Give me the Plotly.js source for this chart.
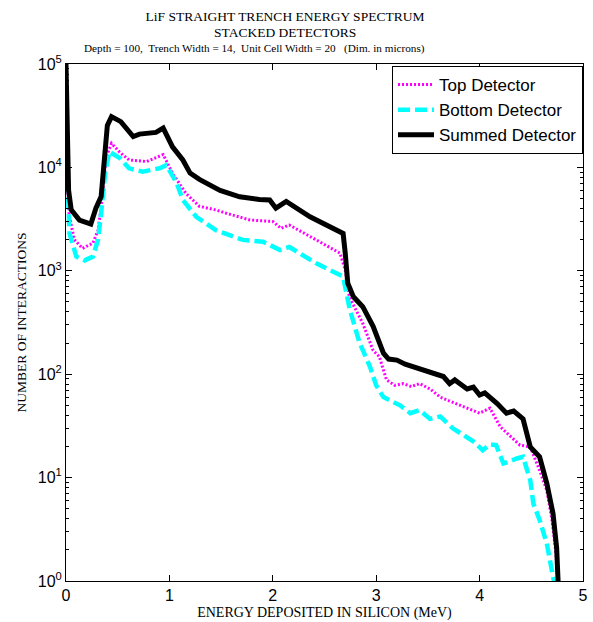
<!DOCTYPE html>
<html>
<head>
<meta charset="utf-8">
<script src="https://cdn.plot.ly/plotly-3.0.1.min.js"></script>
<style>html,body{margin:0;padding:0;background:#fff;}#chart{width:593px;height:622px;}</style>
</head>
<body>
<div id="chart"></div>
<script>
// Energy deposited (MeV) and counts for each detector
const sumX = [0, 0.01, 0.025, 0.05, 0.13, 0.24, 0.29, 0.34, 0.37, 0.40, 0.44, 0.53, 0.65, 0.71, 0.87, 0.94, 1.03, 1.13, 1.20, 1.29, 1.49, 1.68, 1.87, 1.97, 2.03, 2.07, 2.13, 2.36, 2.68, 2.70, 2.725, 2.78, 2.87, 2.97, 3.07, 3.12, 3.20, 3.28, 3.36, 3.45, 3.50, 3.58, 3.65, 3.71, 3.76, 3.81, 3.88, 3.94, 4.00, 4.05, 4.10, 4.17, 4.26, 4.33, 4.42, 4.44, 4.49, 4.58, 4.65, 4.71, 4.745, 4.76];
const sumY = [100000, 30000, 6000, 3900, 3090, 2830, 4060, 5220, 11000, 25500, 31000, 27700, 19900, 21000, 21800, 24000, 15800, 11800, 8800, 7650, 6000, 5200, 4900, 4840, 4030, 4300, 4680, 3330, 2300, 1500, 760, 560, 450, 290, 160, 140, 137, 125, 118, 112, 108, 102, 95, 81, 88, 81, 72, 75, 63, 66, 60, 52, 42, 44, 37, 30, 19.8, 15.9, 8.8, 4.5, 2.1, 0.95];

const topX = [0, 0.03, 0.08, 0.16, 0.26, 0.31, 0.34, 0.39, 0.44, 0.52, 0.61, 0.78, 0.94, 1.03, 1.16, 1.29, 1.45, 1.55, 1.78, 2.00, 2.08, 2.16, 2.42, 2.65, 2.70, 2.74, 2.87, 2.97, 3.03, 3.10, 3.18, 3.26, 3.34, 3.42, 3.52, 3.62, 3.71, 3.81, 3.90, 4.00, 4.10, 4.20, 4.30, 4.39, 4.49, 4.58, 4.65, 4.70, 4.74, 4.76];
const topY = [14000, 3500, 2000, 1650, 1850, 2460, 4200, 12700, 17100, 14000, 11800, 11400, 13300, 8800, 5600, 4200, 3880, 3600, 3100, 3000, 2570, 2770, 1990, 1480, 1020, 560, 310, 170, 148, 88, 78, 81, 76, 81, 72, 60, 55, 50, 46, 42, 47, 31, 25, 20.6, 19.8, 11.8, 7.5, 3.9, 1.8, 0.9];

const botX = [0, 0.034, 0.10, 0.18, 0.26, 0.31, 0.34, 0.38, 0.42, 0.52, 0.61, 0.74, 0.905, 0.97, 1.07, 1.13, 1.26, 1.45, 1.71, 1.905, 2.07, 2.16, 2.42, 2.68, 2.745, 2.84, 2.94, 3.00, 3.07, 3.15, 3.23, 3.33, 3.42, 3.52, 3.62, 3.74, 3.87, 3.95, 4.03, 4.10, 4.16, 4.23, 4.36, 4.42, 4.49, 4.52, 4.58, 4.65, 4.71, 4.73];
const botY = [16000, 2300, 1370, 1260, 1370, 2000, 3620, 9000, 14200, 12300, 9800, 9100, 9800, 10500, 7100, 4840, 3330, 2470, 1990, 1910, 1590, 1700, 1180, 880, 420, 200, 118, 78, 60, 55, 50, 42, 45, 37, 39, 30, 24.7, 22, 18.4, 21, 20.6, 13.7, 15.3, 15.9, 9.4, 5.6, 3.9, 2.3, 1.1, 0.9];

const seriesNames = ["Top Detector", "Bottom Detector", "Summed Detector"];
const xTickVals = [0, 1, 2, 3, 4, 5];
const yTickVals = [1, 10, 100, 1000, 10000, 100000];
const yTickText = ["10<sup>0</sup>", "10<sup>1</sup>", "10<sup>2</sup>", "10<sup>3</sup>", "10<sup>4</sup>", "10<sup>5</sup>"];

const titleLines = ["LiF STRAIGHT TRENCH ENERGY SPECTRUM", "STACKED DETECTORS", "Depth = 100,  Trench Width = 14,  Unit Cell Width = 20   (Dim. in microns)"];
const xTitle = "ENERGY DEPOSITED IN SILICON (MeV)";
const yTitle = "NUMBER OF INTERACTIONS";

const minorVals = [];
for (let d = 1; d < 100000; d *= 10) for (let k = 2; k <= 9; k++) minorVals.push(k * d);

const serif = "Liberation Serif, Times New Roman, serif";
const sans = "Liberation Sans, Arial, Helvetica, sans-serif";

const traces = [
  {x: topX, y: topY, name: seriesNames[0], type: "scatter", mode: "lines",
   line: {color: "#ff00ff", width: 3, dash: "2px,2px"}},
  {x: botX, y: botY, name: seriesNames[1], type: "scatter", mode: "lines",
   line: {color: "#00ffff", width: 4.5, dash: "12px,5px"}},
  {x: sumX, y: sumY, name: seriesNames[2], type: "scatter", mode: "lines",
   line: {color: "#000000", width: 5}}
];

const PW = 517, PH = 517, ML = 66, MT = 64;
const layout = {
  width: 593, height: 622,
  margin: {l: ML, r: 10, t: MT, b: 41},
  paper_bgcolor: "#fff", plot_bgcolor: "#fff",
  showlegend: true,
  title: {
    text: titleLines[0],
    font: {family: serif, size: 13.5, color: "#000"},
    x: (285 - ML) / PW, xref: "paper", xanchor: "center",
    y: 1 - 16.5 / 622, yref: "container", yanchor: "middle"
  },
  annotations: [{
    text: titleLines[1], showarrow: false,
    font: {family: serif, size: 13.5, color: "#000"},
    xref: "paper", yref: "paper", x: (285 - ML) / PW, y: 1 + (MT - 32.5) / PH,
    xanchor: "center", yanchor: "middle"
  }, {
    text: titleLines[2], showarrow: false,
    font: {family: serif, size: 11.2, color: "#000"},
    xref: "paper", yref: "paper", x: (254.5 - ML) / PW, y: 1 + (MT - 48.5) / PH,
    xanchor: "center", yanchor: "middle"
  }],
  xaxis: {
    range: [0, 5], tickvals: xTickVals, ticktext: xTickVals.map(String),
    ticks: "inside", ticklen: 6, tickcolor: "#000", tickwidth: 1,
    showline: true, linecolor: "#000", linewidth: 1, mirror: "ticks",
    showgrid: false, zeroline: false,
    tickfont: {family: sans, size: 16, color: "#000"},
    title: {text: xTitle, font: {family: serif, size: 14, color: "#000"}, standoff: 3}
  },
  yaxis: {
    type: "log", range: [0, 5], tickvals: yTickVals, ticktext: yTickText,
    ticks: "inside", ticklen: 6, tickcolor: "#000", tickwidth: 1,
    showline: true, linecolor: "#000", linewidth: 1, mirror: "ticks",
    showgrid: false, zeroline: false,
    tickfont: {family: sans, size: 16, color: "#000"},
    minor: {tickvals: minorVals, ticks: "inside", ticklen: 3, tickcolor: "#000", showgrid: false},
    title: {text: yTitle, font: {family: serif, size: 13.5, color: "#000"}, standoff: 8}
  },
  legend: {
    x: 1, xanchor: "right", y: 1 - 2 / PH, yanchor: "top",
    bgcolor: "#fff", bordercolor: "#000", borderwidth: 1,
    itemwidth: 36,
    font: {family: sans, size: 17, color: "#000"}
  }
};

Plotly.newPlot("chart", traces, layout, {staticPlot: true, displayModeBar: false});
</script>
</body>
</html>
